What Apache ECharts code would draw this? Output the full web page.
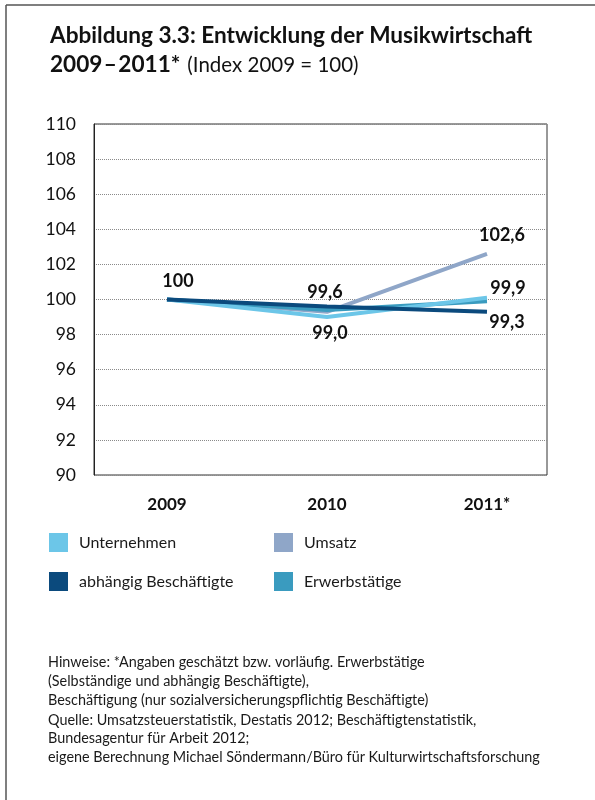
<!DOCTYPE html>
<html>
<head>
<meta charset="utf-8">
<script src="https://cdn.jsdelivr.net/npm/echarts@6/dist/echarts.min.js"></script>
<style>
  html, body { margin: 0; padding: 0; background: #fff; }
  #chart { width: 595px; height: 800px; }
</style>
</head>
<body>
<div id="chart"></div>
<script>
// Index values, 2009 = 100
const years = ['2009', '2010', '2011*'];
const unternehmen = [100, 99.0, 100.1];
const umsatz = [100, 99.3, 102.6];
const beschaeftigte = [100, 99.6, 99.3];
const erwerbstaetige = [100, 99.4, 99.9];

const yMin = 90;
const yMax = 110;
const yStep = 2;

const seriesColors = {
  'Unternehmen': '#6cc6e8',
  'Umsatz': '#8fa6c8',
  'abhängig Beschäftigte': '#0b4a7d',
  'Erwerbstätige': '#3a9bbf'
};

const notes = [
  'Hinweise: *Angaben geschätzt bzw. vorläufig. Erwerbstätige',
  '(Selbständige und abhängig Beschäftigte),',
  'Beschäftigung (nur sozialversicherungspflichtig Beschäftigte)',
  'Quelle: Umsatzsteuerstatistik, Destatis 2012; Beschäftigtenstatistik,',
  'Bundesagentur für Arbeit 2012;',
  'eigene Berechnung Michael Söndermann/Büro für Kulturwirtschaftsforschung'
];

const FONT = 'Lato, "Noto Sans", sans-serif';

function fmt(v) {
  return v === 100 ? '100' : v.toFixed(1).replace('.', ',');
}

// Attach value labels to selected points; offsets place them beside the line
function withLabels(values, offsets) {
  return values.map((v, i) => offsets[i]
    ? { value: v, label: { show: true, offset: offsets[i] } }
    : v);
}

function lineSeries(name, values, offsets) {
  return {
    name: name,
    type: 'line',
    xAxisIndex: 1,
    yAxisIndex: 1,
    data: withLabels(values, offsets || []),
    symbol: 'circle',
    symbolSize: 0,
    lineStyle: { width: 4, color: seriesColors[name] },
    itemStyle: { color: seriesColors[name] },
    label: {
      show: false,
      position: 'inside',
      formatter: p => fmt(p.value),
      fontFamily: FONT,
      fontWeight: 'bold',
      fontSize: 18,
      color: '#111'
    },
    emphasis: { disabled: true },
    silent: true
  };
}

const noteTexts = notes.map((t, i) => ({
  type: 'text',
  left: 48,
  top: [655, 674, 693, 713, 731, 750][i],
  style: { text: t, fontFamily: FONT, fontSize: 14.4, fill: '#1a1a1a' }
}));

const chart = echarts.init(document.getElementById('chart'), null, { renderer: 'canvas' });

chart.setOption({
  backgroundColor: '#fff',
  animation: false,
  grid: [
    { left: 94, top: 124, width: 453, height: 351, show: true, borderColor: '#333', borderWidth: 1, backgroundColor: 'transparent' },
    { left: 87, top: 124, width: 480, height: 351 }
  ],
  xAxis: [
    { gridIndex: 0, type: 'category', data: years, show: false },
    {
      gridIndex: 1,
      type: 'category',
      data: years,
      boundaryGap: true,
      axisLine: { show: false },
      axisTick: { show: false },
      splitLine: { show: false },
      axisLabel: { margin: 21, fontFamily: FONT, fontWeight: 'bold', fontSize: 17, color: '#111' }
    }
  ],
  yAxis: [
    {
      gridIndex: 0,
      type: 'value',
      min: yMin,
      max: yMax,
      interval: yStep,
      axisLine: { show: true, lineStyle: { color: '#222', width: 1 } },
      axisTick: { show: false },
      axisLabel: { margin: 18, fontFamily: FONT, fontSize: 17.5, color: '#111' },
      splitLine: { show: true, lineStyle: { type: [1, 1], color: '#8a8a8a', width: 1 } }
    },
    { gridIndex: 1, type: 'value', min: yMin, max: yMax, show: false, splitLine: { show: false } }
  ],
  legend: [
    {
      left: 49, top: 533, orient: 'vertical', padding: 0, itemGap: 20,
      icon: 'rect', itemWidth: 19, itemHeight: 19,
      data: ['Unternehmen', 'abhängig Beschäftigte'],
      selectedMode: false,
      textStyle: { fontFamily: FONT, fontSize: 16, color: '#1a1a1a', padding: [0, 0, 0, 6] }
    },
    {
      left: 274, top: 533, orient: 'vertical', padding: 0, itemGap: 20,
      icon: 'rect', itemWidth: 19, itemHeight: 19,
      data: ['Umsatz', 'Erwerbstätige'],
      selectedMode: false,
      textStyle: { fontFamily: FONT, fontSize: 16, color: '#1a1a1a', padding: [0, 0, 0, 6] }
    }
  ],
  series: [
    lineSeries('Umsatz', umsatz, [null, null, [15, -19]]),
    lineSeries('Erwerbstätige', erwerbstaetige, [null, null, [21, -13]]),
    lineSeries('Unternehmen', unternehmen, [null, [3, 16], null]),
    lineSeries('abhängig Beschäftigte', beschaeftigte, [[11, -18], [-2, -14], [20, 10]])
  ],
  graphic: [
    { type: 'line', shape: { x1: 6, y1: 5, x2: 6, y2: 800 }, style: { stroke: '#555', lineWidth: 1.5 } },
    { type: 'line', shape: { x1: 6, y1: 5, x2: 595, y2: 5 }, style: { stroke: '#555', lineWidth: 1.5 } },
    {
      type: 'text', left: 50, top: 24,
      style: { text: 'Abbildung 3.3: Entwicklung der Musikwirtschaft', fontFamily: FONT, fontWeight: 'bold', fontSize: 22.6, fill: '#111' }
    },
    {
      type: 'text', left: 50, top: 53,
      style: {
        text: '{b|2009\u200A–\u200A2011*}{r|(Index 2009 = 100)}',
        rich: {
          b: { fontFamily: FONT, fontWeight: 'bold', fontSize: 22.6, fill: '#111', color: '#111' },
          r: { fontFamily: FONT, fontSize: 20.5, fill: '#111', color: '#111', padding: [2, 0, 0, 7] }
        }
      }
    }
  ].concat(noteTexts)
});
</script>
</body>
</html>
